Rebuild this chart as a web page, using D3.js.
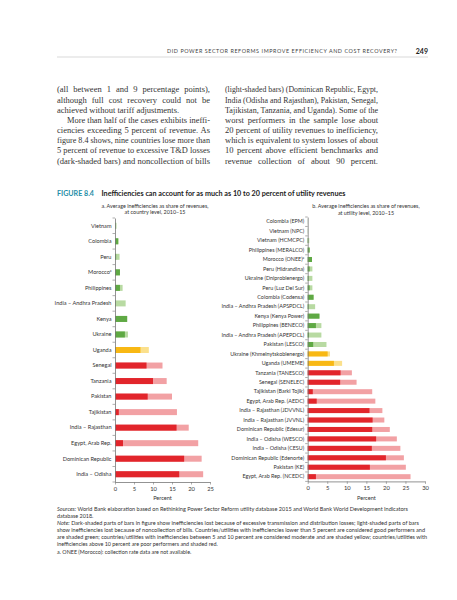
<!DOCTYPE html>
<html>
<head>
<meta charset="utf-8">
<script src="https://cdn.jsdelivr.net/npm/d3@7"></script>
<style>
  body { margin: 0; background: #fff; }
  svg { display: block; }
  .lab { font-family: Lato, "Open Sans", sans-serif; fill: #333; }
</style>
</head>
<body>
<script>
// --- data ---------------------------------------------------------------
var countryNames = ["Vietnam", "Colombia", "Peru", "Morocco", "Philippines", "India – Andhra Pradesh",
  "Kenya", "Ukraine", "Uganda", "Senegal", "Tanzania", "Pakistan", "Tajikistan",
  "India – Rajasthan", "Egypt, Arab Rep.", "Dominican Republic", "India – Odisha"];
// dark part = T&D losses, total = losses + noncollection
var countryLoss  = [0.1, 0.8, 0.3, 1.3, 1.3, 0.1, 3.2, 2.6, 6.7, 8.3, 10.0, 8.6, 1.0, 16.2, 2.1, 18.2, 16.9];
var countryTotal = [0.4, 1.0, 1.2, 1.3, 2.0, 2.8, 3.2, 3.4, 8.9, 12.5, 13.6, 15.0, 16.3, 19.4, 21.9, 22.8, 23.2];

var utilityNames = ["Colombia (EPM)", "Vietnam (NPC)", "Vietnam (HCMCPC)", "Philippines (MERALCO)",
  "Morocco (ONEE)", "Peru (Hidrandina)", "Ukraine (Dniproblenergo)", "Peru (Luz Del Sur)",
  "Colombia (Codensa)", "India – Andhra Pradesh (APSPDCL)", "Kenya (Kenya Power)",
  "Philippines (BENECO)", "India – Andhra Pradesh (APEPDCL)", "Pakistan (LESCO)",
  "Ukraine (Khmelnytskoblenergo)", "Uganda (UMEME)", "Tanzania (TANESCO)", "Senegal (SENELEC)",
  "Tajikistan (Barki Tojik)", "Egypt, Arab Rep. (AEDC)", "India – Rajasthan (JDVVNL)",
  "India – Rajasthan (JVVNL)", "Dominican Republic (Edesur)", "India – Odisha (WESCO)",
  "India – Odisha (CESU)", "Dominican Republic (Edenorte)", "Pakistan (KE)", "Egypt, Arab Rep. (NCEDC)"];
var utilityLoss  = [0, 0, 0.1, 0.5, 1.1, 0.5, 0.2, 0.5, 1.5, 0.2, 3.0, 2.1, 0.3, 1.4, 5.1, 6.7,
  8.4, 8.3, 1.3, 2.3, 15.8, 16.6, 16.5, 17.5, 16.4, 20.0, 15.9, 2.1];
var utilityTotal = [0.05, 0.1, 0.4, 0.5, 1.1, 1.2, 1.2, 1.2, 1.5, 1.9, 3.0, 3.5, 3.5, 4.8, 5.7, 8.8,
  11.3, 12.5, 16.5, 17.3, 19.1, 19.6, 21.0, 22.8, 23.7, 24.6, 25.1, 26.3];

var countryTicks = [0, 5, 10, 15, 20, 25];
var utilityTicks = [0, 5, 10, 15, 20, 25, 30];

var leftCol = ["(all between 1 and 9 percentage points),",
  "although full cost recovery could not be",
  "achieved without tariff adjustments.",
  "More than half of the cases exhibits ineffi-",
  "ciencies exceeding 5 percent of revenue. As",
  "figure 8.4 shows, nine countries lose more than",
  "5 percent of revenue to excessive T&D losses",
  "(dark-shaded bars) and noncollection of bills"];
var rightCol = ["(light-shaded bars) (Dominican Republic, Egypt,",
  "India (Odisha and Rajasthan), Pakistan, Senegal,",
  "Tajikistan, Tanzania, and Uganda). Some of the",
  "worst performers in the sample lose about",
  "20 percent of utility revenues to inefficiency,",
  "which is equivalent to system losses of about",
  "10 percent above efficient benchmarks and",
  "revenue collection of about 90 percent."];

var notes = [
  ["Sources:", " World Bank elaboration based on Rethinking Power Sector Reform utility database 2015 and World Bank World Development Indicators"],
  ["", "database 2018."],
  ["Note:", " Dark-shaded parts of bars in figure show inefficiencies lost because of excessive transmission and distribution losses; light-shaded parts of bars"],
  ["", "show inefficiencies lost because of noncollection of bills. Countries/utilities with inefficiencies lower than 5 percent are considered good performers and"],
  ["", "are shaded green; countries/utilities with inefficiencies between 5 and 10 percent are considered moderate and are shaded yellow; countries/utilities with"],
  ["", "inefficiencies above 10 percent are poor performers and shaded red."],
  ["", "a. ONEE (Morocco): collection rate data are not available."]];

// --- page ---------------------------------------------------------------
var svg = d3.select("body").append("svg").attr("width", 457).attr("height", 600);

svg.append("text").attr("x", 167).attr("y", 53.2)
  .attr("font-family", "Lato, sans-serif").attr("font-size", 5.4).attr("fill", "#444")
  .attr("textLength", 230).attr("lengthAdjust", "spacing")
  .text("DID POWER SECTOR REFORMS IMPROVE EFFICIENCY AND COST RECOVERY?");
svg.append("text").attr("x", 428).attr("y", 53.6).attr("text-anchor", "end")
  .attr("font-family", "Lato, sans-serif").attr("font-weight", "bold").attr("font-size", 7)
  .attr("fill", "#222").text("249");
svg.append("line").attr("x1", 57).attr("x2", 428).attr("y1", 57).attr("y2", 57)
  .attr("stroke", "#c8c8c8").attr("stroke-width", 0.7);

// justified column text
function column(lines, x0, w, justify) {
  lines.forEach(function(s, i) {
    var indent = (lines === leftCol && i === 3) ? 10 : 0;
    var t = svg.append("text").attr("x", x0 + indent).attr("y", 92.4 + i * 10.18)
      .attr("font-family", "'Liberation Serif', serif").attr("font-size", 8.5)
      .attr("fill", "#333").text(s);
    if (justify[i]) {
      var nat = t.node().getComputedTextLength();
      var sp = (s.match(/ /g) || []).length;
      var room = w - indent;
      if (nat > room) t.attr("textLength", room).attr("lengthAdjust", "spacingAndGlyphs");
      else if (sp) t.attr("word-spacing", (room - nat) / sp);
    }
  });
}
column(leftCol, 57, 153, [1, 1, 0, 1, 1, 1, 1, 1]);
column(rightCol, 225, 153, [1, 1, 1, 1, 1, 1, 1, 1]);

// figure title
svg.append("text").attr("x", 57).attr("y", 195.6)
  .attr("font-family", "Lato, sans-serif").attr("font-weight", "bold").attr("font-size", 7.4)
  .attr("fill", "#1f8ea8").attr("textLength", 37).attr("lengthAdjust", "spacingAndGlyphs")
  .text("FIGURE 8.4");
svg.append("text").attr("x", 101.5).attr("y", 195.6)
  .attr("font-family", "Lato, sans-serif").attr("font-weight", "bold").attr("font-size", 7.2)
  .attr("fill", "#222").attr("textLength", 244).attr("lengthAdjust", "spacingAndGlyphs")
  .text("Inefficiencies can account for as much as 10 to 20 percent of utility revenues");

// colours by performance class
function shade(total, dark) {
  if (total < 5) return dark ? "#5fa944" : "#b8daa2";
  if (total <= 10) return dark ? "#f8b814" : "#fbe08c";
  return dark ? "#e2252b" : "#f2a1a4";
}

function panel(o) {
  var x = d3.scaleLinear().domain(o.domain).range(o.xr);
  var y = d3.scaleBand().domain(o.names).range(o.yr);
  var g = svg.append("g");

  o.sub.forEach(function(s, i) {
    g.append("text").attr("class", "lab").attr("x", o.subX).attr("y", o.subY + i * 6.8)
      .attr("text-anchor", "middle").attr("font-size", 5.4).attr("fill", "#444").text(s);
  });

  var rows = o.names.map(function(n, i) { return {n: n, loss: o.loss[i], total: o.total[i]}; });
  var bh = o.bh;
  g.selectAll("rect.tot").data(rows).enter().append("rect")
    .attr("x", x(0)).attr("y", function(d) { return y(d.n) + (y.bandwidth() - bh) / 2; })
    .attr("width", function(d) { return x(d.total) - x(0); }).attr("height", bh)
    .attr("fill", function(d) { return shade(d.total, false); });
  g.selectAll("rect.loss").data(rows).enter().append("rect")
    .attr("x", x(0)).attr("y", function(d) { return y(d.n) + (y.bandwidth() - bh) / 2; })
    .attr("width", function(d) { return x(d.loss) - x(0); }).attr("height", bh)
    .attr("fill", function(d) { return shade(d.total, true); });

  // y axis with labels, ticks at band boundaries
  var ya = g.append("g").attr("transform", "translate(" + x(0) + ",0)")
    .call(d3.axisLeft(y).tickSize(0).tickSizeOuter(0).tickPadding(3.5));
  ya.select(".domain").attr("stroke", "#777").attr("stroke-width", 0.8);
  ya.selectAll("text").attr("class", "lab").attr("font-size", o.fs).attr("fill", "#444")
    .each(function(d) {
      if (d.indexOf("Morocco") === 0) {
        d3.select(this).text(d).append("tspan").attr("font-size", o.fs * 0.6)
          .attr("dy", -o.fs * 0.35).text("a");
      }
    });
  var bounds = o.names.map(function(n) { return y(n); }).concat([o.yr[1]]);
  g.selectAll("line.bt").data(bounds).enter().append("line")
    .attr("x1", x(0) - 2.5).attr("x2", x(0)).attr("y1", function(d) { return d; })
    .attr("y2", function(d) { return d; }).attr("stroke", "#777").attr("stroke-width", 0.6);

  var xa = g.append("g").attr("transform", "translate(0," + o.yr[1] + ")")
    .call(d3.axisBottom(x).tickValues(o.ticks).tickSize(2.5).tickSizeOuter(0).tickPadding(2));
  xa.select(".domain").attr("stroke", "#777").attr("stroke-width", 0.8);
  xa.selectAll("line").attr("stroke", "#777").attr("stroke-width", 0.6);
  xa.selectAll("text").attr("class", "lab").attr("font-size", 5.8).attr("fill", "#444");

  g.append("text").attr("class", "lab").attr("x", (o.xr[0] + o.xr[1]) / 2).attr("y", 500.2)
    .attr("text-anchor", "middle").attr("font-size", 5.6).attr("fill", "#444").text("Percent");
}

panel({
  names: countryNames, loss: countryLoss, total: countryTotal, ticks: countryTicks,
  domain: [0, 25], xr: [115, 210], yr: [218, 482], bh: 6, fs: 5.6,
  sub: ["a. Average inefficiencies as share of revenues,", "at country level, 2010–15"],
  subX: 155, subY: 207.6
});
panel({
  names: utilityNames, loss: utilityLoss, total: utilityTotal, ticks: utilityTicks,
  domain: [0, 30], xr: [307.7, 425], yr: [217, 481.4], bh: 5, fs: 5.4,
  sub: ["b. Average inefficiencies as share of revenues,", "at utility level, 2010–15"],
  subX: 366, subY: 208.3
});

// sources and notes
var noteW = [351, null, 362, 368, 370, null, null];
notes.forEach(function(n, i) {
  var t = svg.append("text").attr("x", 57).attr("y", 510.8 + i * 7.12)
    .attr("font-family", "Lato, sans-serif").attr("font-size", 5.4).attr("fill", "#333");
  if (n[0]) t.append("tspan").attr("font-style", "italic").text(n[0]);
  t.append("tspan").text(n[1]);
  if (noteW[i]) t.attr("textLength", noteW[i]).attr("lengthAdjust", "spacingAndGlyphs");
});
</script>
</body>
</html>
